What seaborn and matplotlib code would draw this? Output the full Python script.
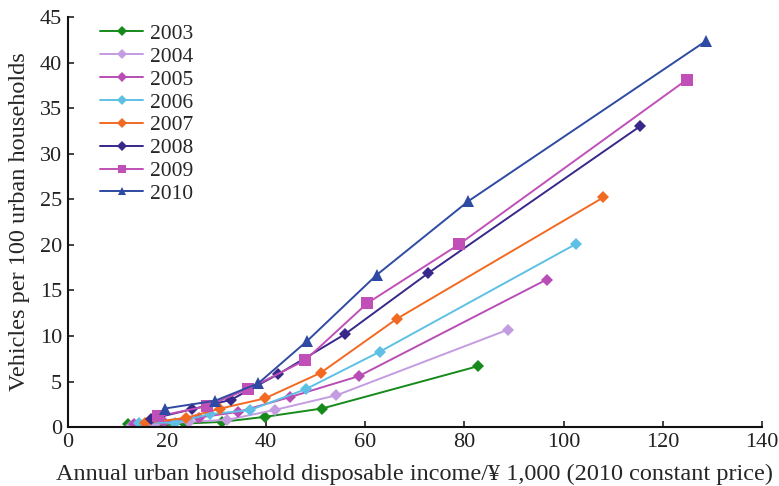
import seaborn as sns
import matplotlib.pyplot as plt
import pandas as pd

years = ["2003", "2004", "2005", "2006", "2007", "2008", "2009", "2010"]

income = {
    "2003": [12.2, 18.2, 23.6, 31.1, 39.7, 51.3, 82.8],
    "2004": [12.8, 17.5, 24.5, 32.1, 41.8, 54.2, 88.8],
    "2005": [13.3, 19.5, 26.4, 34.4, 44.8, 58.7, 96.6],
    "2006": [14.4, 21.7, 28.6, 36.7, 48.0, 62.9, 102.5],
    "2007": [15.5, 23.8, 30.8, 39.7, 51.0, 66.4, 108.0],
    "2008": [16.7, 25.1, 32.9, 42.4, 55.9, 72.7, 115.4],
    "2009": [18.2, 28.0, 36.4, 47.9, 60.4, 78.9, 124.8],
    "2010": [19.6, 29.7, 38.4, 48.3, 62.3, 80.8, 128.8],
}
vehicles = {
    "2003": [0.4, 0.15, 0.4, 0.58, 1.13, 2.05, 6.7],
    "2004": [0.15, 0.3, 0.6, 0.8, 1.9, 3.5, 10.7],
    "2005": [0.3, 0.6, 1.06, 1.68, 3.3, 5.6, 16.2],
    "2006": [0.5, 0.5, 1.43, 1.87, 4.17, 8.27, 20.1],
    "2007": [0.47, 1.02, 2.05, 3.15, 5.96, 11.9, 25.2],
    "2008": [0.88, 1.98, 3.0, 5.8, 10.2, 16.9, 33.0],
    "2009": [1.2, 2.3, 4.2, 7.35, 13.6, 20.05, 38.1],
    "2010": [2.05, 2.9, 4.8, 9.47, 16.7, 24.8, 42.4],
}

colors = ["#168a1a", "#c49ce2", "#b94db6", "#5ec0e4", "#f26a22", "#37288a", "#c050b8", "#2f4aa2"]
markers = ["D", "D", "D", "D", "D", "D", "s", "^"]

rows = []
for y in years:
    for xi, vi in zip(income[y], vehicles[y]):
        rows.append({"year": y, "income": xi, "vehicles": vi})
df = pd.DataFrame(rows)

sns.set_style("ticks")
plt.rcParams["font.family"] = ["Liberation Serif", "DejaVu Serif"]
plt.rcParams["xtick.direction"] = "in"
plt.rcParams["ytick.direction"] = "in"

fig, ax = plt.subplots(figsize=(7.79, 4.86), dpi=100)
fig.subplots_adjust(left=0.087, right=0.978, bottom=0.121, top=0.965)

sns.lineplot(data=df, x="income", y="vehicles", hue="year", style="year",
             hue_order=years, style_order=years, palette=colors,
             markers=dict(zip(years, markers)), dashes=False, sort=False,
             linewidth=1.4, markersize=6, markeredgewidth=0, ax=ax)

# bigger markers for square/triangle
for line, m in zip(ax.get_lines(), markers):
    if m != "D":
        line.set_markersize(8)

ax.set_xlim(0, 140)
ax.set_ylim(0, 45)
ax.set_xticks(range(0, 141, 20))
ax.set_yticks(range(0, 46, 5))
ax.tick_params(labelsize=16, length=4, width=1.2, colors="#222222", pad=4)
for s in ["left", "bottom"]:
    ax.spines[s].set_linewidth(1.5)
    ax.spines[s].set_color("#111111")
sns.despine(ax=ax)

ax.set_xlabel("Annual urban household disposable income/\u00a5 1,000 (2010 constant price)",
              fontsize=17.5, labelpad=9)
ax.set_ylabel("Vehicles per 100 urban households", fontsize=17.5, labelpad=7)

handles, labels = ax.get_legend_handles_labels()
leg = ax.legend(handles, labels, loc="upper left", bbox_to_anchor=(0.025, 1.02), frameon=False,
                fontsize=15.5, handlelength=2.0, labelspacing=0.13, borderaxespad=0.3,
                handletextpad=0.3)
for h in leg.legend_handles:
    h.set_markersize(5.5)

plt.savefig("out.png", dpi=100)
